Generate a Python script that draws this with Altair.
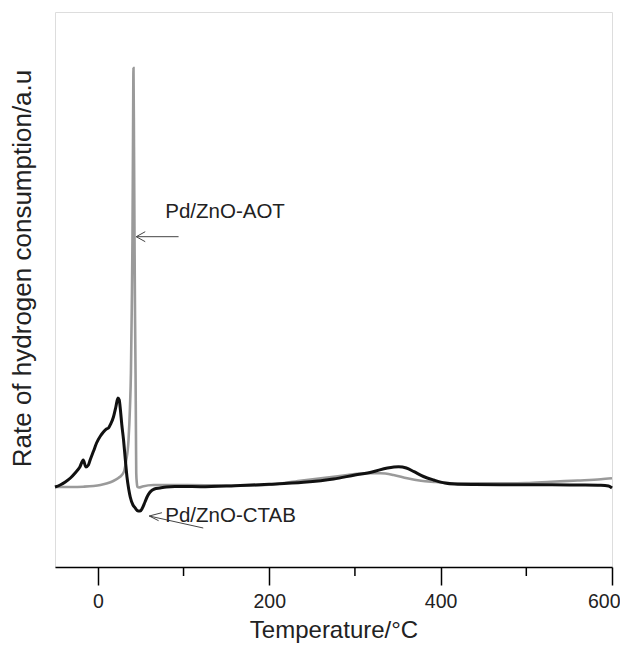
import altair as alt
import pandas as pd

# Pd/ZnO-CTAB (black) trace: temperature (°C) and signal (a.u.)
ctab_t = [-50, -44, -38, -32, -26.5, -21, -17, -14, -11, -9, -5, -1.5, 3, 6.5, 10, 12.4, 15, 18.2,
          21, 23.4, 25, 26, 28, 30, 32, 34, 36, 37.8, 41, 43.6, 47, 49.4, 52, 55, 58, 61, 66, 72.5,
          80, 90, 100, 120, 160, 200, 240, 275, 300, 320, 338, 351, 360, 369, 380, 392, 405, 416,
          440, 470, 500, 530, 560, 587, 596, 600]
ctab_y = [0, 2, 5, 9, 14, 20, 27, 20, 22, 27, 36, 44, 51, 55, 58, 59, 63, 70,
          80, 89, 87, 80, 62, 47, 28, 10, -2, -10, -18, -21, -24, -24, -21, -15, -9, -5, -2, -1,
          0, 0.5, 0.5, 0.3, 1.3, 2.7, 4.7, 8, 12, 15, 19, 20.3, 19, 15.3, 10.5, 7, 4, 3,
          2.5, 2.3, 2.3, 2.3, 2, 1.7, 1, -1]

# Pd/ZnO-AOT (grey) trace
aot_t = [-50, -30, -17, -5, 3, 10, 18, 24, 28, 30.7, 33, 35.8, 37.5, 38.6, 39.6, 40.4, 41, 41.6,
         42.2, 42.8, 43.4, 44, 44.5, 44.8, 45.5, 46.3, 48, 52, 65, 104, 166, 200, 236, 275, 314,
         330, 345, 361, 377, 395, 412, 440, 470, 500, 529, 560, 587, 600]
aot_y = [0, 0, 0.3, 1, 2, 3.5, 6, 9, 12, 16, 26, 47, 80, 114, 180, 247, 340, 419,
         340, 247, 170, 114, 50, 14, 4, 0, -0.5, 0.5, 2, 2, 1.3, 2.2, 6.3, 10.3, 13.7,
         13.7, 12, 8.7, 6.3, 5, 3.7, 3.7, 3.7, 4, 5.3, 6.5, 7.7, 8.7]

x_ticks = [0, 200, 400, 600]
x_minor = [100, 300, 500]

labels = ["Pd/ZnO-AOT", "Pd/ZnO-CTAB"]
label_t = [78.7, 78.7]
label_y = [275, -29]

# arrows: shaft and two head strokes (x, y, x2, y2)
arrow_x = [94.2, 44.8, 44.8, 123, 60, 60]
arrow_y = [250.3, 250.3, 250.3, -41, -29, -29]
arrow_x2 = [44.8, 55.3, 55.3, 60, 74.8, 70.9]
arrow_y2 = [250.3, 255.3, 245.3, -29, -25.7, -33.7]

XDOM = [-50, 600]
YDOM = [-80, 475]
W, H = 557, 555

df_c = pd.DataFrame({"T": ctab_t, "v": ctab_y})
df_a = pd.DataFrame({"T": aot_t, "v": aot_y})
df_l = pd.DataFrame({"T": label_t, "v": label_y, "text": labels})
df_ar = pd.DataFrame({"x": arrow_x, "y": arrow_y, "x2": arrow_x2, "y2": arrow_y2})
df_m = pd.DataFrame({"T": x_minor})

xs = alt.Scale(domain=XDOM, nice=False, zero=False)
ys = alt.Scale(domain=YDOM, nice=False, zero=False)

xaxis = alt.Axis(values=x_ticks, tickSize=18, tickWidth=1.5, tickColor="black",
                 domainColor="black", domainWidth=1.5, labelFontSize=19.5,
                 labelFont="Liberation Sans", labelColor="#222", labelPadding=7,
                 labelFlush=True, labelFlushOffset=8, labelOverlap=False,
                 grid=False, title="Temperature/°C", titleFont="Liberation Sans",
                 titleFontSize=24, titleFontWeight="normal", titleColor="#222",
                 titleBaseline="alphabetic", titleY=70)
yaxis = alt.Axis(labels=False, ticks=False, domain=False, grid=False,
                 title="Rate of hydrogen consumption/a.u", titleFont="Liberation Sans",
                 titleFontSize=26, titleFontWeight="normal", titleColor="#222",
                 titleBaseline="alphabetic", titleX=-25, titleY=256)

gray = alt.Chart(df_a).mark_line(color="#9a9a9a", strokeWidth=2.6, interpolate="monotone").encode(
    x=alt.X("T:Q", scale=xs, axis=xaxis),
    y=alt.Y("v:Q", scale=ys, axis=yaxis),
)
black = alt.Chart(df_c).mark_line(color="#111111", strokeWidth=3, interpolate="monotone").encode(
    x=alt.X("T:Q", scale=xs),
    y=alt.Y("v:Q", scale=ys),
)
minor = alt.Chart(df_m).mark_rule(color="black", strokeWidth=1.5).encode(
    x=alt.X("T:Q", scale=xs),
    y=alt.value(H),
    y2=alt.value(H + 9),
)
arrows = alt.Chart(df_ar).mark_rule(color="#444", strokeWidth=1).encode(
    x=alt.X("x:Q", scale=xs), y=alt.Y("y:Q", scale=ys),
    x2="x2:Q", y2="y2:Q",
)
text = alt.Chart(df_l).mark_text(align="left", baseline="middle", fontSize=20.5,
                                 font="Liberation Sans", color="#222").encode(
    x=alt.X("T:Q", scale=xs), y=alt.Y("v:Q", scale=ys), text="text:N",
)

chart = alt.layer(gray, black, minor, arrows, text).properties(
    width=W, height=H,
    autosize=alt.AutoSizeParams(type="none"),
    padding={"left": 47, "top": 4, "right": 8, "bottom": 78},
).configure_view(stroke="black", strokeWidth=1.5).configure(background="white")

chart.save("out.html", embed_options={"renderer": "svg", "actions": False})
